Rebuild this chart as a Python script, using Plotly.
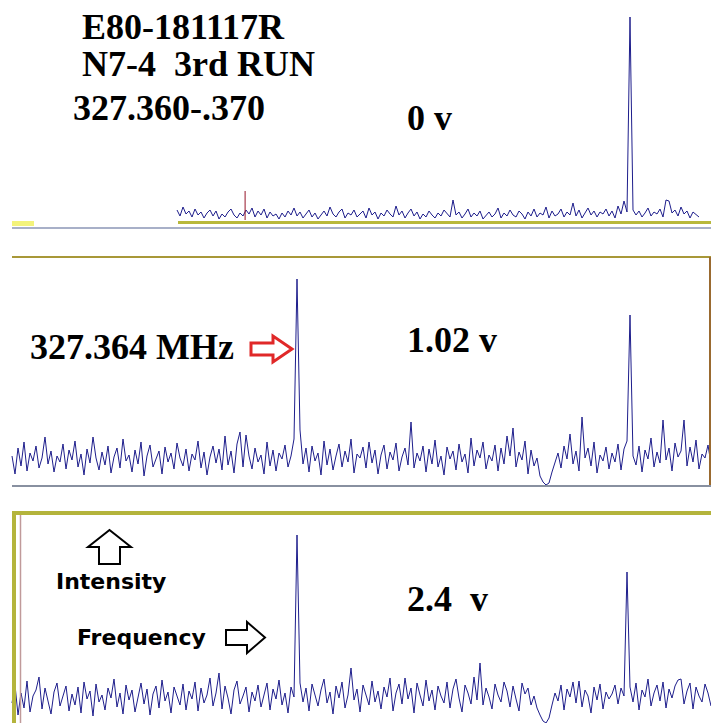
import plotly.graph_objects as go

# ---------------- data (intensity per channel, arbitrary units) ----------------
panel1_start_channel = 55
panel1_intensity = [
    10, 4, 13, 6, 9, 3, 11, 5, 8, 2, 7, 10, 4, 9, 1, 6, 3, 8, 11, 5,
    2, 7, 4, 10, 6, 12, 3, 9, 5, 11, 2, 8, 4, 6, 1, 7, 3, 9, 5, 12,
    4, 8, 2, 6, 10, 3, 7, 1, 5, 9, 4, 13, 6, 3, 8, 11, 2, 7, 5, 10,
    3, 6, 9, 2, 12, 5, 8, 1, 7, 4, 10, 6, 3, 14, 5, 9, 2, 7, 11, 4,
    8, 1, 6, 3, 9, 5, 2, 7, 4, 10, 6, 3, 20, 5, 8, 2, 6, 11, 3, 7,
    4, 9, 1, 5, 8, 3, 6, 12, 2, 7, 4, 10, 5, 3, 9, 6, 1, 8, 4, 11,
    3, 7, 5, 13, 2, 9, 4, 6, 11, 3, 8, 5, 17, 4, 10, 2, 7, 12, 5, 9,
    3, 8, 6, 11, 4, 9, 2, 14, 6, 19, 8, 203, 10, 5, 9, 3, 7, 12, 4, 8,
    6, 11, 3, 20, 19, 7, 10, 4, 13, 6, 9, 2, 8, 5, 3,
]
marker_channel = [77.7]
marker_intensity = [29]

panel2_intensity = [
    30, 12, 38, 20, 44, 15, 33, 25, 40, 18, 28, 49, 22, 35, 14, 30, 24, 42, 17, 36,
    26, 45, 19, 32, 11, 37, 23, 49, 28, 16, 34, 21, 40, 13, 29, 38, 18, 47, 25, 31,
    14, 36, 22, 44, 10, 30, 41, 19, 27, 35, 12, 39, 24, 33, 17, 43, 28, 20, 37, 15,
    32, 26, 45, 18, 34, 11, 29, 40, 23, 37, 16, 50, 21, 35, 13, 42, 54, 19, 51, 30,
    17, 38, 24, 31, 12, 44, 20, 36, 15, 33, 27, 41, 19, 30, 47,
    207,
    56, 22, 38, 14,
    40, 25, 33, 11, 45, 21, 37, 16, 30, 42, 19, 35, 24, 47, 13, 32, 28, 39, 18, 44,
    23, 36, 12, 31, 41, 17, 34, 26, 43, 15, 29, 38, 21, 64, 18, 33, 25, 40, 14, 37,
    22, 46, 19, 30, 11, 39, 27, 35, 16, 42, 24, 32, 13, 48, 20, 36, 28, 44, 17, 31,
    25, 41, 15, 38, 22, 50, 30, 58, 19, 34, 26, 45, 12, 36, 20, 28, 10, 4, 1, 3,
    14, 24, 33, 18, 40, 27, 52, 22, 35, 15, 69, 28, 38, 20, 44, 13, 31, 25, 39, 17,
    33, 24, 42, 16, 37, 45, 171, 30, 21, 40, 14, 36, 27, 48, 19, 34, 23, 66, 26, 38,
    15, 43, 29, 35, 66, 20, 39, 24, 46, 17, 32, 28, 41, 22,
]

panel3_intensity = [
    20, 38, 8, 30, 15, 42, 11, 27, 33, 46, 14, 35, 22, 9, 31, 40, 17, 26, 37, 12,
    29, 18, 36, 10, 41, 24, 32, 7, 39, 21, 28, 13, 35, 25, 44, 16, 30, 9, 38, 23,
    33, 11, 27, 40, 19, 34, 8, 29, 37, 15, 43, 22, 31, 10, 36, 26, 18, 39, 13, 32,
    24, 41, 12, 35, 20, 28, 45, 17, 30, 50, 14, 37, 25, 9, 33, 42, 19, 27, 36, 11,
    31, 22, 38, 16, 29, 40, 13, 34, 24, 43, 18, 30, 10, 36, 26, 188, 40, 21, 35, 12,
    39, 27, 17, 33, 44, 20, 31, 9, 37, 25, 41, 15, 28, 55, 23, 34, 11, 38, 29, 18,
    42, 21, 32, 14, 36, 26, 45, 12, 30, 39, 19, 45, 24, 35, 10, 40, 28, 17, 43, 22,
    33, 13, 37, 27, 20, 41, 15, 34, 44, 25, 11, 38, 30, 19, 46, 23, 60, 18, 35, 26,
    14, 39, 28, 21, 41, 32, 16, 37, 24, 12, 40, 29, 35, 18, 27, 15, 8, 2, 0, 5,
    18, 30, 22, 38, 13, 34, 26, 41, 20, 42, 16, 33, 27, 10, 36, 23, 39, 14, 31, 24,
    29, 38, 19, 35, 27, 151, 36, 21, 40, 13, 33, 26, 44, 17, 30, 38, 22, 41, 15, 34,
    25, 37, 43, 44, 19, 32, 40, 14, 36, 27, 21, 39, 30, 17,
]

title_lines = ["E80-181117R", "N7-4\u00a0\u00a03rd RUN", "327.360-.370"]
voltage_labels = ["0 v", "1.02 v", "2.4\u00a0\u00a0v"]
peak_label = "327.364 MHz"
axis_labels = ["Intensity", "Frequency"]

# ---------------- layout helpers ----------------
W, H = 711, 723
LINE = "rgb(30,30,140)"


def fx(x):
    return x / W


def fy(y):
    return 1 - y / H


def path(points):
    return "M " + " L ".join(f"{fx(x):.5f},{fy(y):.5f}" for x, y in points) + " Z"


ch1 = list(range(panel1_start_channel, panel1_start_channel + len(panel1_intensity)))
ch2 = list(range(len(panel2_intensity)))
ch3 = list(range(len(panel3_intensity)))

fig = go.Figure()
fig.add_trace(go.Scatter(x=ch1, y=panel1_intensity, mode="lines",
                         line=dict(color=LINE, width=1), xaxis="x", yaxis="y"))
fig.add_trace(go.Scatter(x=[marker_channel[0], marker_channel[0]], y=[0, marker_intensity[0]],
                         mode="lines", line=dict(color="rgb(150,20,40)", width=1),
                         xaxis="x", yaxis="y"))
fig.add_trace(go.Scatter(x=ch2, y=panel2_intensity, mode="lines",
                         line=dict(color=LINE, width=1), xaxis="x", yaxis="y2"))
fig.add_trace(go.Scatter(x=ch3, y=panel3_intensity, mode="lines",
                         line=dict(color=LINE, width=1), xaxis="x", yaxis="y3"))

ax_hidden = dict(visible=False, showgrid=False, zeroline=False, fixedrange=True)
P = dict(xref="paper", yref="paper")

shapes = [
    # panel 1 baseline strips
    dict(type="rect", x0=fx(12), x1=fx(34), y0=fy(226), y1=fy(221),
         fillcolor="#f3f37c", line=dict(width=0), **P),
    dict(type="line", x0=fx(178), x1=fx(711), y0=fy(222.5), y1=fy(222.5),
         line=dict(color="#b8b83c", width=3), **P),
    dict(type="line", x0=fx(12), x1=fx(711), y0=fy(228), y1=fy(228),
         line=dict(color="#a8b0c8", width=2), **P),
    # panel 2 frame
    dict(type="line", x0=fx(12), x1=fx(711), y0=fy(257), y1=fy(257),
         line=dict(color="#a89838", width=2), **P),
    dict(type="line", x0=fx(710), x1=fx(710), y0=fy(257), y1=fy(486),
         line=dict(color="#9a6a30", width=2), **P),
    dict(type="line", x0=fx(12), x1=fx(711), y0=fy(486), y1=fy(486),
         line=dict(color="#8890a0", width=2), **P),
    # panel 3 frame
    dict(type="line", x0=fx(12), x1=fx(711), y0=fy(513), y1=fy(513),
         line=dict(color="#b4b43c", width=4), **P),
    dict(type="line", x0=fx(14), x1=fx(14), y0=fy(511), y1=fy(723),
         line=dict(color="#b4b43c", width=4), **P),
    dict(type="line", x0=fx(20.5), x1=fx(20.5), y0=fy(515), y1=fy(723),
         line=dict(color="#c09a9a", width=1.5), **P),
    # arrows
    dict(type="path", path=path([(251, 343), (273, 343), (273, 336), (292, 349),
                                 (273, 362), (273, 355), (251, 355)]),
         line=dict(color="#e02828", width=3), fillcolor="white", **P),
    dict(type="path", path=path([(109.5, 530), (131, 547), (120, 547), (120, 564),
                                 (99, 564), (99, 547), (88, 547)]),
         line=dict(color="black", width=2), fillcolor="white", **P),
    dict(type="path", path=path([(226, 630), (247, 630), (247, 622), (265, 637.5),
                                 (247, 653), (247, 645), (226, 645)]),
         line=dict(color="black", width=2), fillcolor="white", **P),
]

SERIF = dict(family="Liberation Serif, Times New Roman, serif", size=36, color="black")
SANS = dict(family="DejaVu Sans, Verdana, sans-serif", size=22, color="black")


def ann(text, x, y, font):
    return dict(text=f"<b>{text}</b>", x=fx(x), y=fy(y), xref="paper", yref="paper",
                xanchor="left", yanchor="middle", showarrow=False, font=font)


annotations = [
    ann(title_lines[0], 80, 27, SERIF),
    ann(title_lines[1], 80, 64, SERIF),
    ann(title_lines[2], 71, 108, SERIF),
    ann(voltage_labels[0], 405, 118, SERIF),
    ann(peak_label, 28, 347, SERIF),
    ann(voltage_labels[1], 405, 340, SERIF),
    ann(voltage_labels[2], 405, 599, SERIF),
    ann(axis_labels[0], 54, 581, SANS),
    ann(axis_labels[1], 75, 637, SANS),
]

fig.update_layout(
    width=W, height=H, margin=dict(l=0, r=0, t=0, b=0),
    paper_bgcolor="white", plot_bgcolor="rgba(0,0,0,0)", showlegend=False,
    xaxis=dict(range=[(0 - 12) / 3, (711 - 12) / 3], domain=[0, 1], **ax_hidden),
    yaxis=dict(range=[0, 220], domain=[fy(220), 1], **ax_hidden),
    yaxis2=dict(range=[0, 229], domain=[fy(486), fy(257)], **ax_hidden),
    yaxis3=dict(range=[0, 211], domain=[0, fy(512)], **ax_hidden),
    shapes=shapes, annotations=annotations,
)

fig.write_html("out.html", config=dict(displayModeBar=False),
               post_script="document.body.style.margin='0';document.body.style.overflow='hidden';")
